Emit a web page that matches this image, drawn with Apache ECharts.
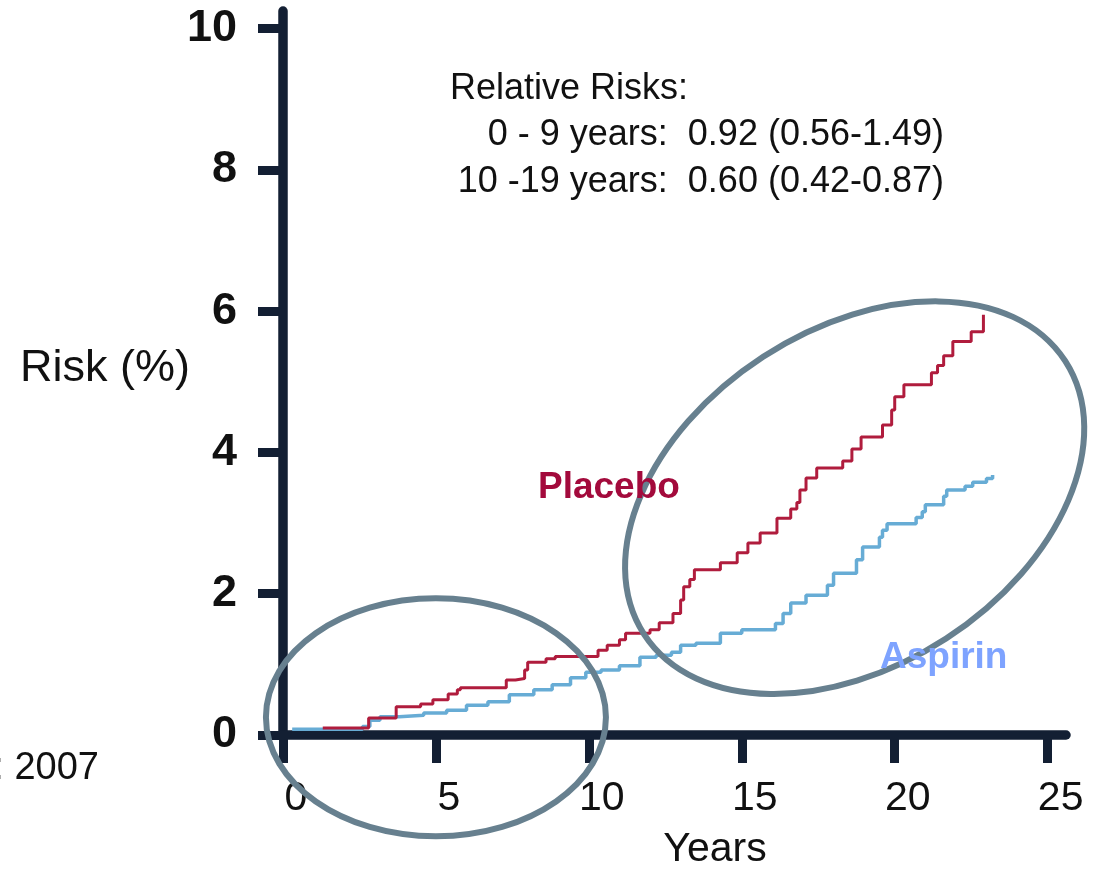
<!DOCTYPE html>
<html>
<head>
<meta charset="utf-8">
<script src="https://cdn.jsdelivr.net/npm/echarts@6/dist/echarts.min.js"></script>
<style>
html,body{margin:0;padding:0;background:#fff;}
#chart{width:1097px;height:869px;}
</style>
</head>
<body>
<div id="chart"></div>
<script>
// ---- data ----
const xTicks = [0, 5, 10, 15, 20, 25];
const yTicks = [0, 2, 4, 6, 8, 10];
const placebo = [
  [1.3, 0.10], [2.8, 0.24], [3.7, 0.40], [4.5, 0.44], [4.9, 0.50], [5.4, 0.58], [5.7, 0.64],
  [5.8, 0.67], [7.3, 0.78], [7.6, 0.80], [7.9, 0.92], [8.0, 1.03], [8.6, 1.08], [8.9, 1.11],
  [10.3, 1.20], [10.6, 1.27], [11.0, 1.35], [11.2, 1.44], [12.0, 1.49], [12.3, 1.59],
  [12.75, 1.72], [13.0, 1.91], [13.1, 2.10], [13.3, 2.20], [13.45, 2.34], [14.3, 2.44],
  [14.85, 2.58], [15.2, 2.72], [15.6, 2.86], [16.15, 3.07], [16.6, 3.20], [16.8, 3.29],
  [16.9, 3.47], [17.1, 3.64], [17.45, 3.78], [18.3, 3.88], [18.6, 4.05], [18.9, 4.22],
  [19.6, 4.39], [19.9, 4.60], [20.0, 4.79], [20.3, 4.96], [21.2, 5.13], [21.4, 5.23],
  [21.6, 5.37], [21.9, 5.57], [22.5, 5.71], [22.9, 5.95]
];
const aspirin = [
  [0.3, 0.08], [2.6, 0.12], [2.84, 0.21], [3.17, 0.26], [3.8, 0.28], [4.6, 0.31], [5.35, 0.35],
  [6.0, 0.42], [6.7, 0.47], [7.4, 0.57], [8.2, 0.64], [8.8, 0.71], [9.4, 0.81], [9.9, 0.89],
  [10.4, 0.92], [11.0, 0.98], [11.67, 1.10], [12.2, 1.13], [12.7, 1.17], [13.0, 1.27],
  [13.5, 1.30], [14.3, 1.44], [15.0, 1.49], [16.1, 1.58], [16.35, 1.72], [16.6, 1.87],
  [17.1, 1.98], [17.8, 2.12], [18.0, 2.29], [18.75, 2.48], [18.95, 2.66], [19.5, 2.80],
  [19.6, 2.90], [19.75, 2.99], [20.7, 3.08], [20.9, 3.16], [21.0, 3.26], [21.6, 3.38],
  [21.7, 3.47], [22.3, 3.52], [22.55, 3.58], [23.0, 3.63], [23.2, 3.68]
];
const rrTitle = 'Relative Risks:';
const rrLines = ['0 - 9 years:  0.92 (0.56-1.49)', '10 -19 years:  0.60 (0.42-0.87)'];
// highlighted regions (data-space centre, pixel radii, rotation in degrees)
const highlightEllipses = [
  { x: 5.0, y: 0.25, rx: 170, ry: 119, rot: 0 },
  { x: 18.69, y: 3.36, rx: 251, ry: 168, rot: 33 }
];

// ---- chart ----
const FONT = '"Liberation Sans", Arial, Helvetica, sans-serif';
const AXIS = '#131f33';
const chart = echarts.init(document.getElementById('chart'), null, { renderer: 'canvas' });

const option = {
  backgroundColor: '#ffffff',
  animation: false,
  grid: { left: 283, right: 31, top: 11, bottom: 134, containLabel: false },
  xAxis: {
    type: 'value', min: 0, max: 25.6, interval: 5,
    axisLine: { show: true, lineStyle: { color: AXIS, width: 9.5 } },
    axisTick: { show: true, customValues: xTicks, length: 28, lineStyle: { color: AXIS, width: 9 } },
    axisLabel: { customValues: xTicks, margin: 43, color: '#111', fontSize: 41, fontFamily: FONT,
      padding: [0, 0, 0, 26] },
    splitLine: { show: false }
  },
  yAxis: {
    type: 'value', min: 0, max: 10.25, interval: 2,
    axisLine: { show: true, lineStyle: { color: AXIS, width: 9.5 } },
    axisTick: { show: true, customValues: yTicks, length: 25, lineStyle: { color: AXIS, width: 9 } },
    axisLabel: { customValues: yTicks, margin: 46, color: '#111', fontSize: 45, fontWeight: 'bold', fontFamily: FONT,
      padding: [8, 0, 0, 0] },
    splitLine: { show: false }
  },
  series: [
    { name: 'Aspirin', type: 'line', step: 'end', data: aspirin, showSymbol: false, z: 3,
      lineStyle: { color: '#67acd5', width: 3.5 } },
    { name: 'Placebo', type: 'line', step: 'end', data: placebo, showSymbol: false, z: 4,
      lineStyle: { color: '#b01c3d', width: 3 } }
  ]
};
chart.setOption(option);

function txt(text, x, y, size, opts) {
  opts = opts || {};
  return {
    type: 'text', z: 10,
    style: {
      text: text, x: x, y: y,
      fontSize: size, fontFamily: FONT, fontWeight: opts.weight || 'normal',
      fill: opts.color || '#111',
      align: opts.align || 'left', textAlign: opts.align || 'left',
      verticalAlign: 'middle', textVerticalAlign: 'middle'
    }
  };
}

const graphics = [];
highlightEllipses.forEach(function (e) {
  const p = chart.convertToPixel({ gridIndex: 0 }, [e.x, e.y]);
  graphics.push({
    type: 'ellipse', z: 8,
    x: p[0], y: p[1], rotation: e.rot * Math.PI / 180,
    shape: { cx: 0, cy: 0, rx: e.rx, ry: e.ry },
    style: { fill: 'none', stroke: '#67808f', lineWidth: 6 }
  });
});
graphics.push(txt(rrTitle, 450, 89, 36));
graphics.push(txt(rrLines[0], 944, 135, 36, { align: 'right' }));
graphics.push(txt(rrLines[1], 944, 182, 36, { align: 'right' }));
graphics.push(txt('Risk (%)', 20, 369, 45));
graphics.push(txt('Years', 715, 850, 41, { align: 'center' }));
graphics.push(txt(': 2007', 99, 769, 38, { align: 'right' }));
graphics.push(txt('Placebo', 538, 488, 37, { weight: 'bold', color: '#a30a3c' }));
graphics.push(txt('Aspirin', 880, 658, 37, { weight: 'bold', color: '#7ea3ff' }));
chart.setOption({ graphic: { elements: graphics } });
</script>
</body>
</html>
